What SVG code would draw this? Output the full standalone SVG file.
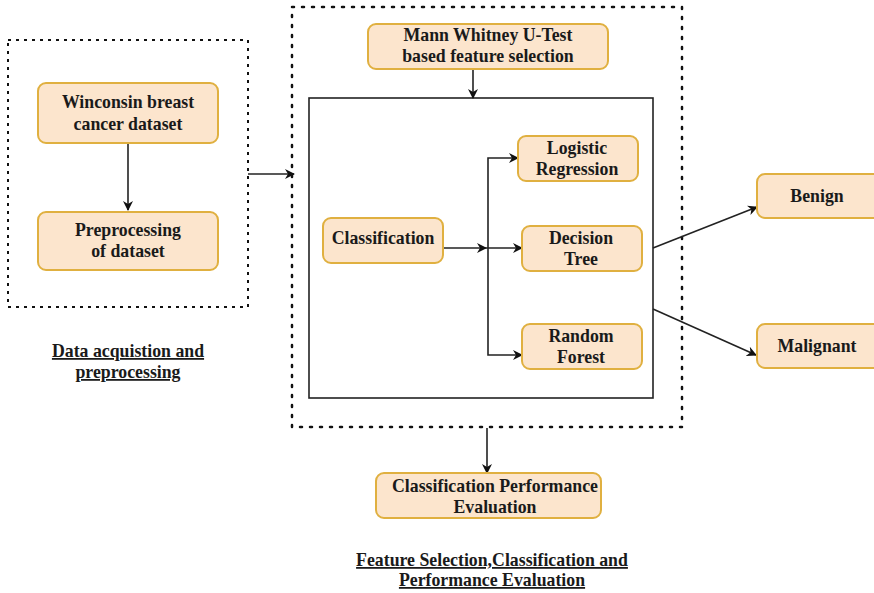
<svg xmlns="http://www.w3.org/2000/svg" width="874" height="593" viewBox="0 0 874 593">
<defs>
<marker id="arr" viewBox="0 0 10 10" refX="9" refY="5" markerWidth="10" markerHeight="10" markerUnits="userSpaceOnUse" orient="auto">
<path d="M0,0 L10,5 L0,10 L3,5 Z" fill="#111"/>
</marker>
<style>
.node rect{fill:#fce5cd;stroke:#e0b040;stroke-width:2}
text{font-family:'Liberation Serif','DejaVu Serif',serif;font-weight:bold;fill:#1a1a1a;text-anchor:middle}
.t{font-size:17.8px}
.lbl{font-size:17.8px;text-decoration:underline}
.c{fill:none;stroke:#222;stroke-width:1.6}
</style>
</defs>
<rect width="874" height="593" fill="#fff"/>
<g id="containers">
<rect x="8" y="40" width="240" height="267" fill="none" stroke="#111" stroke-width="2" stroke-dasharray="3,5"/>
<rect x="292" y="7" width="390" height="420" fill="none" stroke="#111" stroke-width="2.5" stroke-dasharray="2,8" stroke-linecap="round"/>
<rect x="309" y="98" width="344" height="300" fill="none" stroke="#222" stroke-width="1.6"/>
</g>
<g id="connectors">
<line class="c" x1="128" y1="143" x2="128" y2="210" marker-end="url(#arr)"/>
<line class="c" x1="248" y1="174" x2="294" y2="174" marker-end="url(#arr)"/>
<line class="c" x1="473" y1="69" x2="473" y2="98" marker-end="url(#arr)"/>
<line class="c" x1="443" y1="248" x2="486" y2="248" marker-end="url(#arr)"/>
<polyline class="c" points="488,248 488,158 518,158" marker-end="url(#arr)"/>
<line class="c" x1="486" y1="248" x2="522" y2="248" marker-end="url(#arr)"/>
<polyline class="c" points="488,248 488,355 522,355" marker-end="url(#arr)"/>
<line class="c" x1="653" y1="248" x2="757" y2="207" marker-end="url(#arr)"/>
<line class="c" x1="653" y1="309" x2="756" y2="355" marker-end="url(#arr)"/>
<line class="c" x1="487" y1="428" x2="487" y2="473" marker-end="url(#arr)"/>
</g>
<g id="wisconsin" class="node"><rect x="38" y="83" width="180" height="60" rx="8"/><text class="t" x="128" y="108">Winconsin breast</text><text class="t" x="128" y="130">cancer dataset</text></g>
<g id="preprocessing" class="node"><rect x="38" y="212" width="180" height="58" rx="8"/><text class="t" x="128" y="236">Preprocessing</text><text class="t" x="128" y="257">of dataset</text></g>
<g id="mannwhitney" class="node"><rect x="368" y="24" width="240" height="45" rx="8"/><text class="t" x="488" y="41">Mann Whitney U-Test</text><text class="t" x="488" y="62">based feature selection</text></g>
<g id="classification" class="node"><rect x="323" y="218" width="120" height="45" rx="8"/><text class="t" x="383" y="244">Classification</text></g>
<g id="logistic" class="node"><rect x="518" y="136" width="120" height="45" rx="8"/><text class="t" x="577" y="154">Logistic</text><text class="t" x="577" y="175">Regression</text></g>
<g id="decisiontree" class="node"><rect x="522" y="226" width="120" height="45" rx="8"/><text class="t" x="581" y="244">Decision</text><text class="t" x="581" y="265">Tree</text></g>
<g id="randomforest" class="node"><rect x="522" y="324" width="120" height="45" rx="8"/><text class="t" x="581" y="342">Random</text><text class="t" x="581" y="363">Forest</text></g>
<g id="benign" class="node"><rect x="757" y="174" width="130" height="44" rx="8"/><text class="t" x="817" y="202">Benign</text></g>
<g id="malignant" class="node"><rect x="757" y="324" width="130" height="44" rx="8"/><text class="t" x="817" y="352">Malignant</text></g>
<g id="evaluation" class="node"><rect x="376" y="473" width="225" height="45" rx="8"/><text class="t" x="495" y="492">Classification Performance</text><text class="t" x="495" y="513">Evaluation</text></g>
<g id="labels">
<text class="lbl" x="128" y="357">Data acquistion and</text>
<text class="lbl" x="128" y="378">preprocessing</text>
<text class="lbl" x="492" y="566">Feature Selection,Classification and</text>
<text class="lbl" x="492" y="586">Performance Evaluation</text>
</g>
</svg>
